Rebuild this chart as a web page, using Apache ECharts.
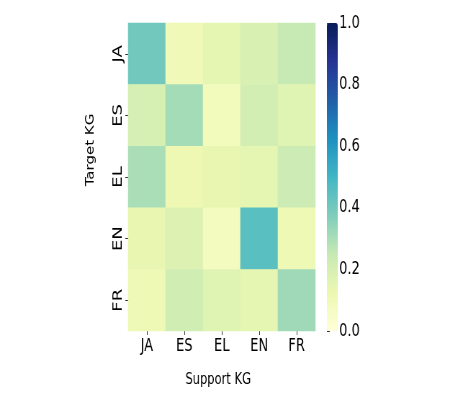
<!DOCTYPE html>
<html>
<head>
<meta charset="utf-8">
<script src="https://cdn.jsdelivr.net/npm/echarts@6/dist/echarts.min.js"></script>
<style>
html,body{margin:0;padding:0;overflow:hidden;background:#fff;}
#wrap{width:473px;height:407px;overflow:hidden;}
#chart{width:657px;height:407px;transform:scaleX(0.72);transform-origin:0 0;}
</style>
</head>
<body>
<div id="wrap"><div id="chart"></div></div>
<script>
const supportKG = ['JA', 'ES', 'EL', 'EN', 'FR'];
const targetKG = ['JA', 'ES', 'EL', 'EN', 'FR'];
const rowJA = [0.40, 0.10, 0.15, 0.19, 0.25];
const rowES = [0.20, 0.31, 0.09, 0.21, 0.17];
const rowEL = [0.30, 0.12, 0.14, 0.15, 0.23];
const rowEN = [0.14, 0.18, 0.08, 0.45, 0.11];
const rowFR = [0.11, 0.22, 0.17, 0.15, 0.32];
const colorMin = 0.0;
const colorMax = 1.0;
const colorStep = 0.2;
const ylgnbu = ['#ffffd9','#edf8b1','#c7e9b4','#7fcdbb','#41b6c4','#1d91c0','#225ea8','#253494','#081d58'];

const rowsData = [rowJA, rowES, rowEL, rowEN, rowFR];
const cells = [];
rowsData.forEach((row, r) => row.forEach((v, c) => cells.push([c, r, v])));

const FONT = 'DejaVu Sans';
const chart = echarts.init(document.getElementById('chart'), null, {renderer: 'canvas'});
chart.setOption({
  animation: false,
  backgroundColor: '#fff',
  textStyle: {fontFamily: FONT},
  grid: [
    {left: 178, top: 23, width: 260, height: 308},
    {left: 454, top: 23, width: 15, height: 308}
  ],
  xAxis: [
    {type: 'category', gridIndex: 0, data: supportKG, position: 'bottom',
     axisLine: {show: false}, splitArea: {show: false},
     axisTick: {show: true, alignWithLabel: true, length: 4, lineStyle: {color: '#333'}},
     axisLabel: {fontSize: 18, color: '#000', margin: 6, fontFamily: FONT}},
    {type: 'value', gridIndex: 1, show: false, min: 0, max: 1}
  ],
  yAxis: [
    {type: 'category', gridIndex: 0, data: targetKG, inverse: true,
     axisLine: {show: false}, splitArea: {show: false},
     axisTick: {show: true, alignWithLabel: true, length: 4, lineStyle: {color: '#333'}},
     axisLabel: {fontSize: 18, color: '#000', margin: 5, rotate: 90, fontFamily: FONT}},
    {type: 'value', gridIndex: 1, position: 'right', min: colorMin, max: colorMax, interval: colorStep,
     axisLine: {show: false}, splitLine: {show: false},
     axisTick: {show: true, length: 4, lineStyle: {color: '#333'}},
     axisLabel: {fontSize: 18, color: '#000', margin: 2, fontFamily: FONT,
                 formatter: v => v.toFixed(1)}}
  ],
  visualMap: {
    type: 'continuous', min: colorMin, max: colorMax, seriesIndex: 0,
    left: 454, top: 23, itemWidth: 15, itemHeight: 308, padding: 0,
    orient: 'vertical', calculable: false, showLabel: false, text: null,
    hoverLink: false,
    inRange: {color: ylgnbu}
  },
  graphic: [
    {type: 'text', x: 303, y: 380,
     style: {text: 'Support KG', font: '16px "DejaVu Sans"', fill: '#000', textAlign: 'center', textVerticalAlign: 'middle'}},
    {type: 'text', x: 126, y: 150, rotation: Math.PI / 2,
     style: {text: 'Target KG', font: '15px "DejaVu Sans"', fill: '#000', textAlign: 'center', textVerticalAlign: 'middle'}}
  ],
  series: [
    {type: 'heatmap', xAxisIndex: 0, yAxisIndex: 0, data: cells,
     itemStyle: {borderWidth: 0}, label: {show: false}},
    {type: 'scatter', xAxisIndex: 1, yAxisIndex: 1, data: [], silent: true}
  ]
});
</script>
</body>
</html>
